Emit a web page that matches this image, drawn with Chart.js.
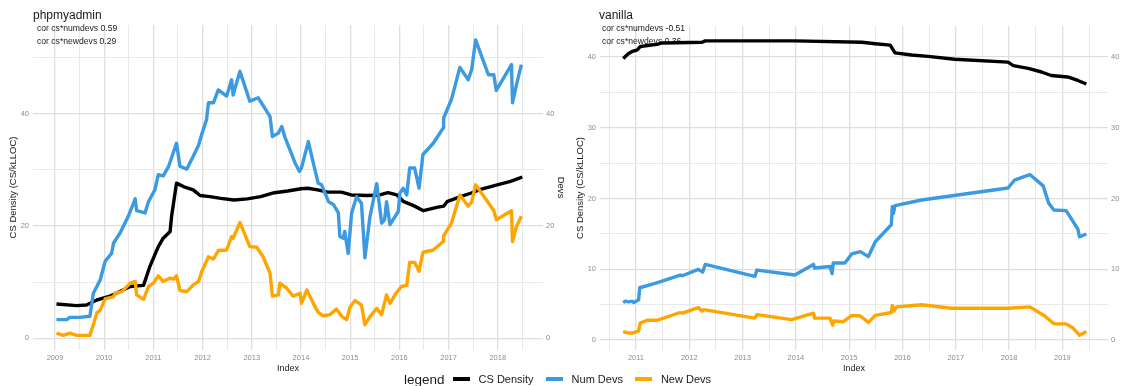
<!DOCTYPE html>
<html>
<head>
<meta charset="utf-8">
<script src="https://cdn.jsdelivr.net/npm/chart.js@4.4.1/dist/chart.umd.min.js"></script>
<style>
  body { margin: 0; background: #fff; font-family: "Liberation Sans", Arial, sans-serif; }
  #wrap { position: relative; width: 1122px; height: 386px; overflow: hidden; }
  canvas { position: absolute; top: 0; }
  #php { left: 0; }
  #van { left: 568px; }
  #legend { position: absolute; left: 404px; top: 370px; height: 18px; display: flex; align-items: center; color: #1a1a1a; font-size: 11px; white-space: nowrap; }
  #legend .ttl { font-size: 13.5px; margin-right: 8px; }
  #legend .key { display: inline-block; width: 17px; height: 4px; margin-right: 9px; }
  #legend .txt { margin-right: 12px; }
</style>
</head>
<body>
<div id="wrap">
  <canvas id="php" width="568" height="376"></canvas>
  <canvas id="van" width="554" height="376"></canvas>
  <div id="legend">
    <span class="ttl">legend</span>
    <span class="key" style="background:#000"></span><span class="txt">CS Density</span>
    <span class="key" style="background:#3b9ae1"></span><span class="txt">Num Devs</span>
    <span class="key" style="background:#ffa500"></span><span class="txt">New Devs</span>
  </div>
</div>
<script>
// phpmyadmin (x = decimal year)
const phpDensityX = [2009.03, 2009.44, 2009.64, 2009.85, 2010.12, 2010.32, 2010.53, 2010.8, 2010.93, 2011.1,
  2011.2, 2011.34, 2011.37, 2011.47, 2011.61, 2011.81, 2011.95, 2012.15, 2012.37, 2012.64,
  2012.91, 2013.18, 2013.46, 2013.73, 2014.0, 2014.14, 2014.34, 2014.54, 2014.82, 2015.02,
  2015.36, 2015.6, 2015.77, 2015.95, 2016.09, 2016.29, 2016.49, 2016.76, 2016.9, 2016.97,
  2017.24, 2017.45, 2017.65, 2017.99, 2018.26, 2018.5];
const phpDensity = [6.1, 5.8, 5.9, 6.8, 7.5, 8.3, 9.2, 9.4, 12.8, 16.3,
  17.8, 19.0, 21.7, 27.6, 27.0, 26.4, 25.4, 25.2, 24.9, 24.6,
  24.8, 25.2, 25.9, 26.2, 26.6, 26.7, 26.4, 26.0, 26.0, 25.5,
  25.4, 25.5, 25.9, 25.5, 24.3, 23.6, 22.7, 23.3, 23.5, 24.3,
  25.2, 25.8, 26.5, 27.3, 27.9, 28.7];

const phpNumDevsX = [2009.03, 2009.24, 2009.3, 2009.5, 2009.71, 2009.78, 2009.92, 2010.02, 2010.15, 2010.19,
  2010.32, 2010.49, 2010.63, 2010.66, 2010.83, 2010.9, 2011.03, 2011.1, 2011.2, 2011.31,
  2011.47, 2011.54, 2011.68, 2011.81, 2011.92, 2011.98, 2012.08, 2012.12, 2012.22, 2012.32,
  2012.49, 2012.59, 2012.62, 2012.76, 2012.96, 2013.13, 2013.37, 2013.42, 2013.54, 2013.61,
  2013.67, 2013.88, 2013.97, 2014.01, 2014.15, 2014.25, 2014.35, 2014.42, 2014.56, 2014.66,
  2014.76, 2014.79, 2014.86, 2014.89, 2014.96, 2015.03, 2015.13, 2015.23, 2015.3, 2015.4,
  2015.54, 2015.64, 2015.7, 2015.74, 2015.81, 2015.98, 2016.01, 2016.08, 2016.15, 2016.21,
  2016.31, 2016.4, 2016.48, 2016.69, 2016.89, 2016.9, 2017.06, 2017.23, 2017.4, 2017.47,
  2017.55, 2017.81, 2017.92, 2017.97, 2018.28, 2018.3, 2018.38, 2018.48];
const phpNumDevs = [3.3, 3.3, 3.7, 3.7, 3.9, 8.0, 10.4, 13.7, 15.1, 16.9,
  18.7, 21.7, 24.8, 22.7, 22.3, 24.3, 26.4, 29.1, 28.9, 30.6,
  34.7, 30.6, 30.1, 32.4, 34.4, 36.2, 38.9, 41.9, 41.9, 44.2,
  43.1, 46.0, 43.3, 47.5, 42.2, 42.8, 39.5, 35.9, 36.5, 37.7,
  35.9, 31.2, 29.7, 30.3, 35.0, 31.2, 27.6, 27.3, 24.3, 23.8,
  22.3, 18.1, 17.8, 19.0, 15.1, 22.3, 25.2, 24.0, 14.3, 21.5,
  27.5, 20.5, 21.1, 24.3, 20.2, 22.6, 25.8, 26.7, 25.5, 30.3,
  30.3, 26.7, 32.7, 34.7, 37.4, 39.2, 42.5, 48.2, 46.0, 47.8,
  53.1, 46.9, 46.9, 44.1, 48.7, 41.9, 45.1, 48.7];

const phpNewDevsX = [2009.03, 2009.17, 2009.3, 2009.44, 2009.71, 2009.78, 2009.85, 2009.92, 2010.02, 2010.19,
  2010.22, 2010.36, 2010.53, 2010.63, 2010.66, 2010.8, 2010.9, 2011.0, 2011.1, 2011.2,
  2011.34, 2011.41, 2011.47, 2011.54, 2011.68, 2011.81, 2011.92, 2011.98, 2012.12, 2012.22,
  2012.32, 2012.49, 2012.59, 2012.62, 2012.76, 2012.96, 2013.1, 2013.23, 2013.37, 2013.42,
  2013.54, 2013.57, 2013.71, 2013.84, 2013.98, 2014.01, 2014.12, 2014.25, 2014.35, 2014.45,
  2014.59, 2014.72, 2014.83, 2014.93, 2015.0, 2015.1, 2015.23, 2015.3, 2015.4, 2015.54,
  2015.64, 2015.74, 2015.81, 2015.94, 2016.04, 2016.15, 2016.21, 2016.31, 2016.4, 2016.48,
  2016.69, 2016.89, 2016.9, 2017.06, 2017.23, 2017.4, 2017.47, 2017.55, 2017.81, 2017.92,
  2017.97, 2018.28, 2018.3, 2018.38, 2018.48];
const phpNewDevs = [0.9, 0.5, 0.9, 0.5, 0.5, 2.4, 4.5, 5.0, 7.0, 7.4,
  8.0, 8.3, 9.8, 10.1, 7.7, 6.9, 9.2, 9.8, 11.1, 10.1,
  10.7, 10.5, 11.1, 8.5, 8.3, 9.5, 10.1, 11.8, 14.5, 14.1,
  15.6, 15.7, 18.1, 17.8, 20.6, 16.3, 16.2, 14.5, 11.6, 7.5,
  7.7, 9.8, 8.9, 7.5, 8.0, 6.2, 8.6, 6.2, 4.6, 4.0,
  4.2, 5.2, 3.9, 3.3, 5.6, 6.7, 5.9, 2.4, 3.8, 5.3,
  4.2, 7.7, 6.2, 8.1, 9.2, 9.4, 13.5, 13.5, 11.9, 15.3,
  15.7, 17.2, 18.2, 20.5, 25.5, 23.5, 24.2, 27.3, 24.1, 22.7,
  21.1, 22.7, 17.2, 19.9, 21.7];

// vanilla
const vanDensityX = [2010.76, 2010.86, 2010.93, 2011.02, 2011.08, 2011.39, 2011.49, 2012.24, 2012.3, 2013.98,
  2015.24, 2015.49, 2015.77, 2015.86, 2016.17, 2016.48, 2016.98, 2017.98, 2018.08, 2018.36,
  2018.61, 2018.79, 2019.1, 2019.29, 2019.45];
const vanDensity = [39.8, 40.5, 40.8, 41.0, 41.5, 41.8, 42.0, 42.1, 42.3, 42.3,
  42.1, 41.9, 41.7, 40.6, 40.3, 40.1, 39.7, 39.3, 38.8, 38.4,
  37.9, 37.4, 37.2, 36.7, 36.2];

const vanNumDevsX = [2010.76, 2010.8, 2010.86, 2010.93, 2010.96, 2011.05, 2011.07, 2011.39, 2011.83, 2011.87,
  2012.17, 2012.25, 2012.3, 2013.23, 2013.27, 2013.98, 2014.33, 2014.35, 2014.64, 2014.68,
  2014.7, 2014.92, 2015.05, 2015.21, 2015.36, 2015.49, 2015.79, 2015.81, 2015.83, 2015.86,
  2016.36, 2017.98, 2018.1, 2018.39, 2018.64, 2018.74, 2018.84, 2019.07, 2019.29, 2019.32, 2019.45];
const vanNumDevs = [5.3, 5.5, 5.4, 5.5, 5.3, 5.7, 7.4, 8.1, 9.2, 9.1,
  10.0, 9.6, 10.7, 9.0, 9.9, 9.2, 10.7, 10.2, 10.4, 9.4,
  10.9, 10.9, 12.2, 12.5, 11.8, 13.9, 16.3, 18.9, 17.9, 19.0,
  19.8, 21.5, 22.6, 23.4, 21.8, 19.4, 18.4, 18.3, 15.7, 14.6, 15.0];

const vanNewDevsX = [2010.76, 2010.86, 2010.93, 2011.05, 2011.08, 2011.21, 2011.39, 2011.83, 2011.87, 2012.17,
  2012.24, 2012.27, 2013.23, 2013.27, 2013.92, 2014.33, 2014.35, 2014.64, 2014.69, 2014.71,
  2014.89, 2015.05, 2015.21, 2015.36, 2015.49, 2015.79, 2015.81, 2015.84, 2015.89, 2016.36,
  2016.92, 2017.98, 2018.39, 2018.67, 2018.84, 2019.07, 2019.2, 2019.32, 2019.45];
const vanNewDevs = [1.2, 1.0, 1.0, 1.3, 2.4, 2.8, 2.8, 3.9, 3.8, 4.6,
  4.1, 4.3, 3.1, 3.6, 2.9, 3.8, 3.1, 3.1, 2.1, 2.7,
  2.6, 3.5, 3.4, 2.5, 3.5, 3.9, 4.9, 4.1, 4.7, 5.0,
  4.5, 4.5, 4.7, 3.4, 2.3, 2.3, 1.7, 0.7, 1.2];

const phpNotes = ['cor cs*numdevs 0.59', 'cor cs*newdevs 0.29'];
const vanNotes = ['cor cs*numdevs -0.51', 'cor cs*newdevs 0.36'];

const FONT = '"Liberation Sans", Arial, sans-serif';
const COLORS = { density: '#000000', numDevs: '#3b9ae1', newDevs: '#ffa500' };

Chart.defaults.font.family = FONT;

const zip = (xs, ys) => xs.map((x, i) => ({ x, y: ys[i] }));
const onStep = (v, step) => Math.abs(v / step - Math.round(v / step)) < 1e-6;

// rebuild ticks on every multiple of step so minor grid lines fall on round values
function gridTicks(step) {
  return scale => {
    const ticks = [];
    for (let v = Math.ceil(scale.min / step) * step; v <= scale.max + 1e-9; v += step) {
      ticks.push({ value: +v.toFixed(4) });
    }
    scale.ticks = ticks;
  };
}

function gridStyle(labelStep) {
  return {
    drawTicks: false,
    color: c => onStep(c.tick.value, labelStep) ? '#dedede' : '#e7e7e7',
    lineWidth: c => onStep(c.tick.value, labelStep) ? 1.3 : 0.9
  };
}

const tickFont = { size: 7.5 };
const tickColor = '#8c8c8c';

// panel title and correlation notes, drawn under the lines
const panelText = {
  id: 'panelText',
  beforeDatasetsDraw(chart, args, opts) {
    const { ctx, chartArea } = chart;
    ctx.save();
    ctx.fillStyle = '#1a1a1a';
    ctx.textBaseline = 'middle';
    ctx.font = '12px ' + FONT;
    ctx.fillText(opts.title, chartArea.left + opts.titleDx, 15.5);
    ctx.font = '8.6px ' + FONT;
    opts.notes.forEach((t, i) => ctx.fillText(t, chartArea.left + opts.noteDx, 29 + i * 12.5));
    ctx.restore();
  }
};

function makePanel(id, cfg) {
  const datasets = [
    { label: 'New Devs', data: zip(cfg.newX, cfg.newY), borderColor: COLORS.newDevs, order: 0 },
    { label: 'Num Devs', data: zip(cfg.numX, cfg.numY), borderColor: COLORS.numDevs, order: 1 },
    { label: 'CS Density', data: zip(cfg.densX, cfg.densY), borderColor: COLORS.density, order: 2 }
  ].map(d => Object.assign(d, {
    borderWidth: 3.4, pointRadius: 0, tension: 0, fill: false,
    borderJoinStyle: 'round', yAxisID: 'y'
  }));

  return new Chart(document.getElementById(id), {
    type: 'line',
    data: { datasets },
    plugins: [panelText],
    options: {
      responsive: false,
      animation: false,
      devicePixelRatio: 1,
      layout: { padding: { top: cfg.top, left: 0, right: 0, bottom: 0 } },
      plugins: {
        legend: { display: false },
        tooltip: { enabled: false },
        panelText: { title: cfg.title, notes: cfg.notes, titleDx: cfg.titleDx, noteDx: cfg.noteDx }
      },
      scales: {
        x: {
          type: 'linear', min: cfg.xMin, max: cfg.xMax,
          afterBuildTicks: gridTicks(0.5),
          afterFit: s => { s.height = 26; },
          grid: gridStyle(1),
          border: { display: false },
          ticks: {
            autoSkip: false, maxRotation: 0, padding: 3, color: tickColor, font: tickFont,
            callback: v => onStep(v, 1) ? String(Math.round(v)) : ''
          },
          title: { display: true, text: 'Index', color: '#1a1a1a', font: { size: 9 }, padding: { top: 0, bottom: 2 } }
        },
        y: {
          type: 'linear', position: 'left', min: cfg.yMin, max: cfg.yMax,
          afterBuildTicks: gridTicks(cfg.yLabelStep / 2),
          afterFit: s => { s.width = cfg.yWidth; },
          grid: gridStyle(cfg.yLabelStep),
          border: { display: false },
          ticks: {
            padding: 4, color: tickColor, font: tickFont,
            callback: v => onStep(v, cfg.yLabelStep) ? String(Math.round(v)) : ''
          },
          title: { display: true, text: 'CS Density (CS/kLLOC)', color: '#1a1a1a', font: { size: 9.5 }, padding: { top: cfg.yTitlePad, bottom: 0 } }
        },
        y2: {
          type: 'linear', position: 'right', min: cfg.yMin, max: cfg.yMax,
          afterBuildTicks: gridTicks(cfg.devsStep),
          afterFit: s => { s.width = cfg.y2Width; },
          grid: { display: false, drawTicks: false },
          border: { display: false },
          ticks: {
            padding: 3, color: tickColor, font: tickFont,
            callback: v => String(Math.round(v))
          },
          title: { display: cfg.devsTitle, text: 'Devs', color: '#1a1a1a', font: { size: 9.5 }, padding: { top: 1.3, bottom: 0 } }
        }
      }
    }
  });
}

makePanel('php', {
  title: 'phpmyadmin', notes: phpNotes, titleDx: 0, noteDx: 4,
  densX: phpDensityX, densY: phpDensity,
  numX: phpNumDevsX, numY: phpNumDevs,
  newX: phpNewDevsX, newY: phpNewDevs,
  xMin: 2008.553, xMax: 2018.92, yMin: -2.1, yMax: 55.75,
  yLabelStep: 20, devsStep: 20, devsTitle: true,
  top: 25, yWidth: 33, y2Width: 25, yTitlePad: 7.3
});

makePanel('van', {
  title: 'vanilla', notes: vanNotes, titleDx: -1, noteDx: 2,
  densX: vanDensityX, densY: vanDensity,
  numX: vanNumDevsX, numY: vanNumDevs,
  newX: vanNewDevsX, newY: vanNewDevs,
  xMin: 2010.325, xMax: 2019.856, yMin: -1.4, yMax: 44.4,
  yLabelStep: 10, devsStep: 10, devsTitle: false,
  top: 26, yWidth: 32, y2Width: 14, yTitlePad: 6.3
});
</script>
</body>
</html>
